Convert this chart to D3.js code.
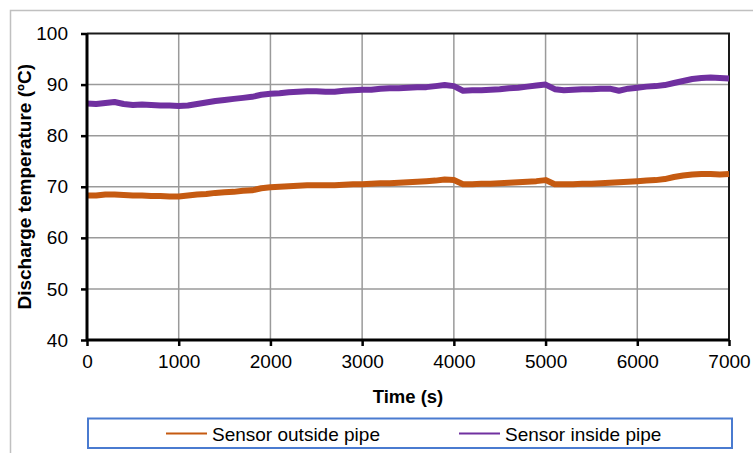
<!DOCTYPE html>
<html>
<head>
<meta charset="utf-8">
<script src="https://cdn.jsdelivr.net/npm/d3@7"></script>
<style>
  body { margin: 0; background: #fff; }
  text { font-family: "Liberation Sans", Arial, sans-serif; }
</style>
</head>
<body>
<script>
// time axis, one reading every 100 s
const times = d3.range(0, 7001, 100);

const outsidePipe = [
    68.3, 68.3, 68.5, 68.5, 68.4, 68.3, 68.3, 68.2, 68.2, 68.1,
    68.1, 68.3, 68.5, 68.6, 68.8, 68.9, 69.0, 69.2, 69.3, 69.7,
    69.9, 70.0, 70.1, 70.2, 70.3, 70.3, 70.3, 70.3, 70.4, 70.5,
    70.5, 70.6, 70.7, 70.7, 70.8, 70.9, 71.0, 71.1, 71.2, 71.4,
    71.3, 70.5, 70.5, 70.6, 70.6, 70.7, 70.8, 70.9, 71.0, 71.1,
    71.3, 70.5, 70.5, 70.5, 70.6, 70.6, 70.7, 70.8, 70.9, 71.0,
    71.1, 71.2, 71.3, 71.5, 71.9, 72.2, 72.4, 72.5, 72.5, 72.4,
    72.5
];

const insidePipe = [
    86.3, 86.2, 86.4, 86.6, 86.2, 86.0, 86.1, 86.0, 85.9, 85.9,
    85.8, 85.9, 86.2, 86.5, 86.8, 87.0, 87.2, 87.4, 87.6, 88.0,
    88.2, 88.3, 88.5, 88.6, 88.7, 88.7, 88.6, 88.6, 88.8, 88.9,
    89.0, 89.0, 89.2, 89.3, 89.3, 89.4, 89.5, 89.5, 89.7, 89.9,
    89.7, 88.8, 88.9, 88.9, 89.0, 89.1, 89.3, 89.4, 89.6, 89.8,
    90.0, 89.1, 88.9, 89.0, 89.1, 89.1, 89.2, 89.2, 88.8, 89.2,
    89.4, 89.6, 89.7, 89.9, 90.3, 90.7, 91.1, 91.3, 91.4, 91.3,
    91.2
];

const xTicks = [0, 1000, 2000, 3000, 4000, 5000, 6000, 7000];
const yTicks = [40, 50, 60, 70, 80, 90, 100];

const seriesNames = ["Sensor outside pipe", "Sensor inside pipe"];
const seriesColors = ["#c55a11", "#7030a0"];

const W = 753, H = 453;
const margin = {top: 33.5, right: 24, bottom: 113, left: 87};
const width = W - margin.left - margin.right, height = H - margin.top - margin.bottom;

const svg = d3.select('body').append('svg')
    .attr('width', W)
    .attr('height', H);

// outer frame (only top and left edges visible)
svg.append('path')
    .attr('d', `M10.5,${H} V10.5 H${W}`)
    .attr('fill', 'none')
    .attr('stroke', '#c0c0c0')
    .attr('stroke-width', 1.5);

const g = svg.append('g')
    .attr('transform', `translate(${margin.left}, ${margin.top})`);

const xScale = d3.scaleLinear().domain([0, 7000]).range([0, width]);
const yScale = d3.scaleLinear().domain([40, 100]).range([height, 0]);

// grid
g.append('g').selectAll('line')
    .data(yTicks.filter(d => d > 40 && d < 100))
    .enter().append('line')
    .attr('x1', 0).attr('x2', width)
    .attr('y1', d => yScale(d)).attr('y2', d => yScale(d))
    .attr('stroke', '#9a9a9a').attr('stroke-width', 1.5);

g.append('g').selectAll('line')
    .data(xTicks.filter(d => d > 0 && d < 7000))
    .enter().append('line')
    .attr('x1', d => xScale(d)).attr('x2', d => xScale(d))
    .attr('y1', 0).attr('y2', height)
    .attr('stroke', '#9a9a9a').attr('stroke-width', 1.5);

// top and right plot border
g.append('path')
    .attr('d', `M0,0 H${width} V${height}`)
    .attr('fill', 'none')
    .attr('stroke', '#1a1a1a')
    .attr('stroke-width', 2);

// lines
const series = [outsidePipe, insidePipe];
const line = d3.line()
    .x((d, i) => xScale(times[i]))
    .y(d => yScale(d));

g.selectAll('.series')
    .data(series)
    .enter().append('path')
    .attr('class', 'series')
    .attr('d', d => line(d))
    .attr('fill', 'none')
    .attr('stroke', (d, i) => seriesColors[i])
    .attr('stroke-width', 6)
    .attr('stroke-linejoin', 'round');

// axes
const xAxis = g.append('g')
    .attr('transform', `translate(0, ${height})`)
    .call(d3.axisBottom(xScale).tickValues(xTicks).tickSize(6).tickPadding(9).tickFormat(d => d));
const yAxis = g.append('g')
    .call(d3.axisLeft(yScale).tickValues(yTicks).tickSize(6).tickPadding(13));

[xAxis, yAxis].forEach(a => {
    a.select('.domain').attr('stroke', '#000').attr('stroke-width', 3);
    a.selectAll('.tick line').attr('stroke', '#000').attr('stroke-width', 2.5);
    a.selectAll('.tick text')
        .attr('fill', '#000')
        .style('font-size', '19px')
        .style('font-family', '"Liberation Sans", Arial, sans-serif');
});
xAxis.select('.domain').attr('d', `M0,0H${width}`);
yAxis.select('.domain').attr('d', `M0,${height}V0`);

// axis titles
g.append('text')
    .attr('x', width / 2)
    .attr('y', height + 63)
    .attr('text-anchor', 'middle')
    .style('font-size', '18.5px')
    .style('font-weight', 'bold')
    .text('Time (s)');

g.append('text')
    .attr('transform', `translate(${31 - margin.left}, ${height / 2}) rotate(-90)`)
    .attr('text-anchor', 'middle')
    .style('font-size', '19px')
    .style('font-weight', 'bold')
    .text('Discharge temperature (ºC)');

// legend
const legend = svg.append('g');
legend.append('rect')
    .attr('x', 88).attr('y', 418.5)
    .attr('width', 644).attr('height', 29.5)
    .attr('fill', '#fff')
    .attr('stroke', '#4a7bd0')
    .attr('stroke-width', 2);

const legendX = [166, 459];
seriesNames.forEach((name, i) => {
    legend.append('line')
        .attr('x1', legendX[i]).attr('x2', legendX[i] + 41)
        .attr('y1', 433.5).attr('y2', 433.5)
        .attr('stroke', seriesColors[i])
        .attr('stroke-width', 2);
    legend.append('text')
        .attr('x', legendX[i] + 46)
        .attr('y', 440.5)
        .style('font-size', '19px')
        .attr('fill', '#000')
        .text(name);
});
</script>
</body>
</html>
